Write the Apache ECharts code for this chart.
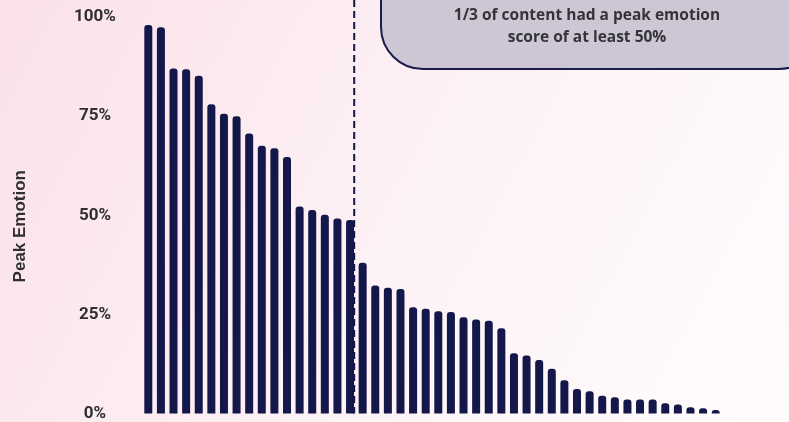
<!DOCTYPE html>
<html>
<head>
<meta charset="utf-8">
<script src="https://cdn.jsdelivr.net/npm/echarts@6/dist/echarts.min.js"></script>
<style>
  html, body { margin: 0; padding: 0; }
  #chart { width: 789px; height: 422px; }
</style>
</head>
<body>
<div id="chart"></div>
<script>
// Peak emotion score per piece of content, sorted high to low (percent)
const peakScores = [
  98.0, 97.4, 87.0, 86.8, 85.2, 78.0, 75.6, 75.0, 70.6, 67.5, 66.9, 64.7,
  52.2, 51.3, 50.1, 49.2, 48.8, 38.0, 32.3, 31.7, 31.4, 26.8, 26.4, 25.8,
  25.6, 24.3, 23.7, 23.4, 21.5, 15.2, 14.6, 13.5, 11.3, 8.4, 6.2, 5.6,
  4.5, 4.1, 3.5, 3.5, 3.5, 2.6, 2.3, 1.6, 1.3, 0.9
];
const contentIds = peakScores.map((_, i) => 'C' + (i + 1));
const yTicks = [0, 25, 50, 75, 100];
// split between the top third of content and the rest (in bar-index units)
const thirdSplit = [16.33];
const calloutLines = ['1/3 of content had a peak emotion', 'score of at least 50%'];
const axisTitle = 'Peak Emotion';

const navy = '#13174a';
const chart = echarts.init(document.getElementById('chart'), null, { renderer: 'canvas' });

chart.setOption({
  animation: false,
  backgroundColor: new echarts.graphic.LinearGradient(0, 0, 1, 1, [
    { offset: 0, color: '#fbe1e9' },
    { offset: 0.55, color: '#fdf3f6' },
    { offset: 1, color: '#fffcfc' }
  ]),
  grid: { left: 142, right: 67, top: 17, bottom: 8, containLabel: false },
  xAxis: [
    {
      type: 'category',
      data: contentIds,
      axisLine: { show: false },
      axisTick: { show: false },
      axisLabel: { show: false }
    },
    {
      type: 'value',
      min: -0.5,
      max: contentIds.length - 0.5,
      show: false
    }
  ],
  yAxis: {
    type: 'value',
    min: yTicks[0],
    max: yTicks[yTicks.length - 1],
    interval: 25,
    splitLine: { show: false },
    axisLine: { show: false },
    axisTick: { show: false },
    axisLabel: {
      formatter: v => v + '%',
      align: 'center',
      margin: 47,
      color: '#2e2e33',
      fontFamily: '"Liberation Sans Narrow", "Roboto", sans-serif',
      fontWeight: 'bold',
      fontSize: 17
    }
  },
  series: [
    {
      type: 'bar',
      data: peakScores,
      barWidth: 8,
      itemStyle: { color: navy, borderRadius: [3, 3, 0, 0] }
    }
  ],
  graphic: [
    {
      type: 'text',
      left: 12,
      top: 170,
      rotation: Math.PI / 2,
      style: {
        text: axisTitle,
        fill: '#2e2e33',
        font: 'bold 17px "Liberation Sans", Arial, sans-serif'
      }
    },
    {
      type: 'rect',
      shape: { x: 381, y: -40, width: 440, height: 109, r: 42 },
      style: { fill: '#cdc7d5', stroke: '#1b1c4d', lineWidth: 2 },
      z: 10
    },
    {
      type: 'text',
      x: 587,
      y: 27,
      z: 11,
      style: {
        text: calloutLines.join('\n'),
        fill: '#333338',
        font: 'bold 15.5px "Open Sans", sans-serif',
        align: 'center',
        verticalAlign: 'middle',
        lineHeight: 22
      }
    }
  ]
});

// Dashed divider placed through the chart's own scales
const xSplit = chart.convertToPixel({ xAxisIndex: 1 }, thirdSplit[0]);
const yBase = chart.convertToPixel({ yAxisIndex: 0 }, 0);
chart.setOption({
  graphic: [
    {
      type: 'line',
      id: 'divider',
      z: 5,
      shape: { x1: xSplit, y1: 0, x2: xSplit, y2: yBase },
      style: { stroke: navy, lineWidth: 2, lineDash: [7, 4] }
    }
  ]
});
</script>
</body>
</html>
